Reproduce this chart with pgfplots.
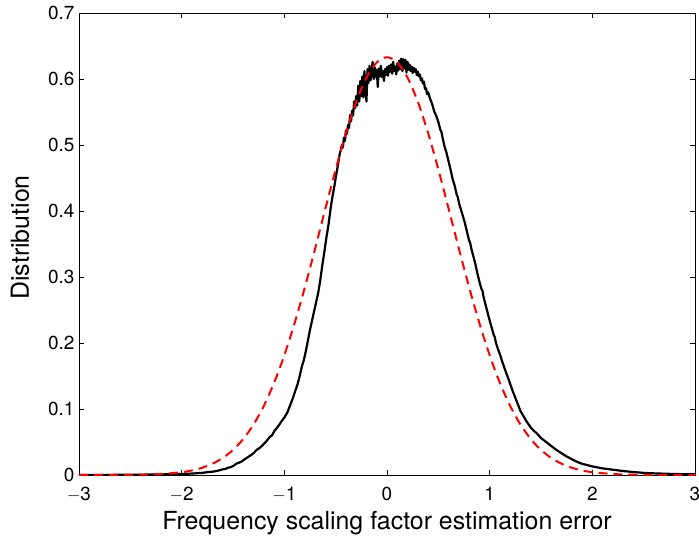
\documentclass[border=0pt]{standalone}
\usepackage{fontspec}
\setmainfont{TeX Gyre Heros}
\usepackage{pgfplots}
\pgfplotsset{compat=1.18}
\begin{document}
\begin{tikzpicture}
\begin{axis}[
  scale only axis,
  width=616bp, height=462bp,
  xmin=-3, xmax=3, ymin=0, ymax=0.7,
  xtick={-3,-2,-1,0,1,2,3},
  ytick={0,0.1,0.2,0.3,0.4,0.5,0.6,0.7},
  xticklabels={$-$3,$-$2,$-$1,0,1,2,3},
  yticklabels={0,0.1,0.2,0.3,0.4,0.5,0.6,0.7},
  tick align=inside,
  major tick length=5bp,
  every tick/.style={black, line width=0.6bp},
  axis line style={line width=0.9bp},
  tick label style={font=\fontsize{19}{21}\selectfont},
  label style={font=\fontsize{25}{28}\selectfont},
  xticklabel style={yshift=-9bp},
  yticklabel style={xshift=-1bp},
  xlabel={Frequency scaling factor estimation error},
  ylabel={Distribution},
  xlabel style={at={(0.5,-0.119)}, anchor=base},
  ylabel style={at={(-0.0812,0.514)}, anchor=base, rotate=0},
]
\addplot[black, line width=2.2bp, line join=round, line cap=round] coordinates {
(-3.00,0) (-2.70,0.0002) (-2.50,0.0004) (-2.30,0.0007) (-2.20,0.0009) (-2.10,0.0012)
(-2.00,0.0016) (-1.90,0.0022) (-1.80,0.0032) (-1.74,0.0045) (-1.70,0.0050) (-1.66,0.0060)
(-1.60,0.0085) (-1.57,0.0095) (-1.55,0.0110) (-1.52,0.0120) (-1.50,0.0135) (-1.46,0.0177) (-1.42,0.0200) (-1.38,0.0245)
(-1.34,0.0285) (-1.30,0.0330) (-1.27,0.0380) (-1.24,0.0410) (-1.20,0.0470) (-1.17,0.0520)
(-1.14,0.0580) (-1.12,0.0600) (-1.10,0.0660) (-1.07,0.0720) (-1.05,0.0760) (-1.02,0.0830)
(-1.00,0.0870) (-0.97,0.0950) (-0.95,0.1030) (-0.92,0.1150) (-0.89,0.1290) (-0.87,0.1380)
(-0.85,0.1500) (-0.83,0.1640) (-0.81,0.1740) (-0.79,0.1880) (-0.77,0.2040) (-0.75,0.2200)
(-0.73,0.2340) (-0.71,0.2480) (-0.69,0.2620) (-0.67,0.2760) (-0.65,0.2950) (-0.63,0.3180)
(-0.61,0.3380) (-0.59,0.3600) (-0.57,0.3790) (-0.55,0.4030) (-0.53,0.4230) (-0.51,0.4400)
(-0.50,0.4500) (-0.48,0.4680)
(-0.46,0.487) (-0.45,0.492) (-0.44,0.500) (-0.43,0.496) (-0.42,0.511) (-0.41,0.506)
(-0.40,0.522) (-0.39,0.517) (-0.38,0.530) (-0.37,0.526) (-0.36,0.545) (-0.35,0.536)
(-0.34,0.552) (-0.33,0.545) (-0.32,0.566) (-0.31,0.556) (-0.30,0.574) (-0.29,0.560)
(-0.28,0.590) (-0.27,0.566) (-0.26,0.597) (-0.25,0.574) (-0.24,0.604) (-0.23,0.572)
(-0.22,0.612) (-0.21,0.588) (-0.20,0.566) (-0.19,0.615) (-0.18,0.594) (-0.17,0.620)
(-0.16,0.598) (-0.15,0.612) (-0.14,0.626) (-0.13,0.600) (-0.12,0.618) (-0.11,0.603)
(-0.10,0.614) (-0.09,0.588) (-0.08,0.616) (-0.07,0.604) (-0.06,0.620) (-0.05,0.603)
(-0.04,0.612) (-0.03,0.597) (-0.02,0.615) (-0.01,0.606) (0.00,0.618) (0.01,0.605)
(0.02,0.620) (0.03,0.611) (0.04,0.622) (0.05,0.608) (0.06,0.626) (0.07,0.612)
(0.08,0.619) (0.09,0.607) (0.10,0.624) (0.11,0.613) (0.12,0.628) (0.13,0.615)
(0.14,0.631) (0.15,0.612) (0.16,0.630) (0.17,0.616) (0.18,0.629) (0.19,0.610)
(0.20,0.626) (0.21,0.614) (0.22,0.622) (0.23,0.612) (0.24,0.619) (0.25,0.609)
(0.26,0.617) (0.27,0.611) (0.28,0.615) (0.29,0.606) (0.30,0.611) (0.31,0.604)
(0.32,0.607) (0.33,0.598) (0.34,0.601) (0.35,0.593) (0.36,0.596) (0.37,0.585)
(0.38,0.586) (0.39,0.577) (0.40,0.580)
(0.42,0.5700) (0.44,0.5620) (0.46,0.5510) (0.48,0.5440) (0.50,0.5350)
(0.52,0.5230) (0.53,0.5200) (0.54,0.5120) (0.56,0.4980) (0.58,0.4880) (0.60,0.4750) (0.62,0.4620)
(0.64,0.4480) (0.66,0.4380) (0.68,0.4240) (0.69,0.4210) (0.70,0.4130) (0.72,0.4020) (0.74,0.3920)
(0.76,0.3810) (0.78,0.3680) (0.80,0.3550) (0.81,0.3520) (0.82,0.3440) (0.84,0.3320) (0.86,0.3200)
(0.88,0.3060) (0.90,0.2930) (0.92,0.2820) (0.93,0.2790) (0.94,0.2700) (0.96,0.2580) (0.98,0.2460)
(1.00,0.2340) (1.02,0.2230) (1.04,0.2120) (1.05,0.2090) (1.06,0.2010) (1.08,0.1910) (1.10,0.1830)
(1.12,0.1730) (1.14,0.1640) (1.16,0.1550) (1.18,0.1470) (1.20,0.1380) (1.22,0.1290)
(1.24,0.1210) (1.26,0.1130) (1.28,0.1050) (1.30,0.0970) (1.33,0.0890) (1.36,0.0810)
(1.40,0.0720) (1.43,0.0670) (1.46,0.0630) (1.50,0.0560) (1.55,0.0500) (1.60,0.0440)
(1.65,0.0380) (1.70,0.0330) (1.75,0.0280) (1.80,0.0240) (1.85,0.0200) (1.90,0.0170)
(1.95,0.0150) (2.00,0.0130) (2.05,0.0115) (2.10,0.0100) (2.20,0.0080) (2.30,0.0060)
(2.40,0.0045) (2.50,0.0032) (2.60,0.0025) (2.70,0.0020) (2.80,0.0015) (2.90,0.0012)
(3.00,0.0010)
};
\addplot[red, line width=2bp, dash pattern=on 9bp off 6bp, smooth] coordinates {
(-3.0,0.0000) (-2.8,0.00003) (-2.6,0.00013) (-2.4,0.00047) (-2.2,0.0015) (-2.0,0.0043)
(-1.9,0.0069) (-1.8,0.0110) (-1.7,0.0171) (-1.6,0.0258) (-1.5,0.0380) (-1.4,0.0546)
(-1.3,0.0765) (-1.2,0.1046) (-1.1,0.1395) (-1.0,0.1814) (-0.9,0.2300) (-0.8,0.2844)
(-0.7,0.3431) (-0.6,0.4036) (-0.5,0.4631) (-0.4,0.5183) (-0.3,0.5657) (-0.2,0.6021)
(-0.1,0.6251) (0.0,0.6330) (0.1,0.6251) (0.2,0.6021) (0.3,0.5657) (0.4,0.5183)
(0.5,0.4631) (0.6,0.4036) (0.7,0.3431) (0.8,0.2844) (0.9,0.2300) (1.0,0.1814)
(1.1,0.1395) (1.2,0.1046) (1.3,0.0765) (1.4,0.0546) (1.5,0.0380) (1.6,0.0258)
(1.7,0.0171) (1.8,0.0110) (1.9,0.0069) (2.0,0.0043) (2.2,0.0015) (2.4,0.00047)
(2.6,0.00013) (2.8,0.00003) (3.0,0.0000)
};
\end{axis}
\pgfresetboundingbox
\path[use as bounding box] (-79bp,-68bp) rectangle (620bp,475bp);
\end{tikzpicture}
\end{document}
